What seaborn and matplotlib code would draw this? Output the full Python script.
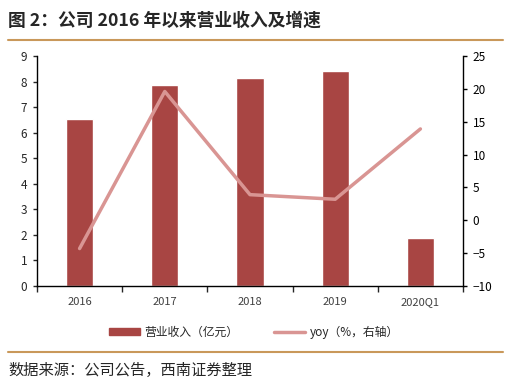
import seaborn as sns
import pandas as pd
import matplotlib.pyplot as plt
from matplotlib.lines import Line2D
from matplotlib.patches import Patch

periods = ['2016', '2017', '2018', '2019', '2020Q1']
revenue = [6.55, 7.85, 8.15, 8.42, 1.88]
yoy = [-4.3, 19.6, 3.9, 3.2, 13.9]

bar_color = '#A84543'
line_color = '#D99593'
gold = '#C9985A'

sns.set_style('white')
plt.rcParams['font.family'] = ['Noto Sans CJK SC', 'DejaVu Sans']

df = pd.DataFrame({'period': periods, 'revenue': revenue, 'yoy': yoy})

fig = plt.figure(figsize=(5.08, 3.84), dpi=100, facecolor='w')
ax = fig.add_axes([0.0728, 0.2552, 0.8386, 0.599])
sns.barplot(data=df, x='period', y='revenue', color=bar_color, width=0.32,
            saturation=1, ax=ax)
ax2 = ax.twinx()
sns.lineplot(x=range(len(periods)), y=df['yoy'], color=line_color, lw=2.5, ax=ax2)

ax.set_xlim(-0.5, 4.5)
ax.set_ylim(0, 9)
ax.set_yticks(range(0, 10))
ax2.set_ylim(-10, 25)
ax2.set_yticks(range(-10, 26, 5))
ax.set_xlabel('')
ax.set_ylabel('')
ax2.set_ylabel('')

for a in (ax, ax2):
    a.spines['top'].set_visible(False)
    for s in ['left', 'right', 'bottom']:
        a.spines[s].set_color('black')
        a.spines[s].set_linewidth(1)
ax.spines['right'].set_visible(False)
ax2.spines['left'].set_visible(False)
ax2.spines['bottom'].set_visible(False)

ax.tick_params(axis='y', direction='out', length=3, width=1, labelsize=8.5, pad=4, left=True)
ax2.tick_params(axis='y', direction='out', length=3, width=1, labelsize=8.5, pad=4, right=True,
                colors='black')
ax.set_xticks(range(len(periods)))
ax.set_xticklabels(periods, fontsize=8, color='#404040')
ax.set_xticks([i - 0.5 for i in range(len(periods) + 1)], minor=True)
ax.tick_params(axis='x', which='major', length=0, pad=8)
ax.tick_params(axis='x', which='minor', direction='out', length=4, width=1, bottom=True)

handles = [Patch(color=bar_color, label='营业收入（亿元）'),
           Line2D([0], [0], color=line_color, lw=2.5, label='yoy（%，右轴）')]
fig.legend(handles=handles, loc='center', bbox_to_anchor=(0.5, 0.135), ncol=2,
           frameon=False, fontsize=8.5, handlelength=2.6, handleheight=0.5,
           columnspacing=3.0, handletextpad=0.4)

fig.text(0.016, 0.945, '图 2：公司 2016 年以来营业收入及增速', fontsize=12.8,
         fontweight='bold', va='center', ha='left')
fig.add_artist(Line2D([0.016, 0.99], [0.896, 0.896], color=gold, lw=1.5))
fig.add_artist(Line2D([0.016, 0.99], [0.083, 0.083], color=gold, lw=1.5))
fig.text(0.016, 0.036, '数据来源：公司公告，西南证券整理', fontsize=11,
         style='italic', va='center', ha='left')

plt.savefig('out.png', dpi=100)
